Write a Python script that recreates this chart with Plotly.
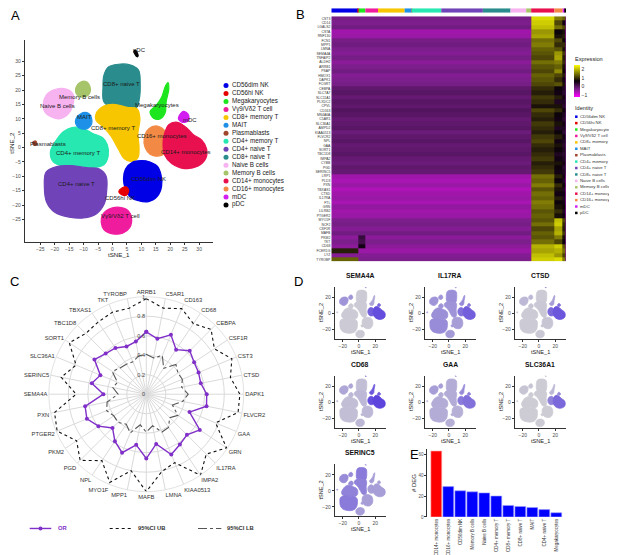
import plotly.graph_objects as go
import numpy as np

W, H = 617, 555
FONT = "Liberation Sans, Arial, sans-serif"


def px(x):
    return x / W


def py(y):
    return 1 - y / H


# ---------------- data ----------------
cluster_names = ["CD56dim NK", "CD56hi NK", "Megakaryocytes", "Vγ9/Vδ2 T cell", "CD8+ memory T",
                 "MAIT", "Plasmablasts", "CD4+ memory T", "CD4+ naive T", "CD8+ naive T",
                 "Naive B cells", "Memory B cells", "CD14+ monocytes", "CD16+ monocytes", "mDC", "pDC"]
cluster_colors = ["#0000E6", "#E60000", "#1EE61E", "#F01C9E", "#F7C600", "#1E90E8", "#A0462D",
                  "#26E8B0", "#7044B8", "#2A8C8C", "#F7B2F0", "#A6C46A", "#E8104F", "#F28A45",
                  "#D21EF0", "#000000"]

# tSNE outlines of each cluster (tSNE_1, tSNE_2)
outline_cd56dim_nk = [(4.5, -7.5), (7, -5), (10, -4.5), (13, -5), (15.5, -6.5), (16.8, -9.5), (17, -13.5),
                      (15.5, -17), (12.5, -18.8), (9, -18.5), (6, -17), (4.5, -14.5), (3.8, -11)]
outline_cd56hi_nk = [(2.2, -15.2), (4.5, -13.6), (5.6, -14.8), (4.8, -16.6), (3.2, -16.4)]
outline_megakaryocytes = [(13, 12.5), (15.2, 14.8), (17, 17.5), (18.3, 21.3), (19.2, 22.6), (19.5, 20.5),
                          (18.6, 16), (18.2, 12), (16.5, 10), (14.2, 10.2)]
outline_vg9vd2 = [(-3.5, -23.5), (-1, -21.3), (2.5, -20.8), (5.5, -22), (6.6, -24.5), (6, -27.8),
                  (3.5, -29.8), (0, -30), (-3, -28.5), (-3.9, -26)]
outline_cd8_memory_t = [(-5.6, 12), (-3, 14.5), (1, 15), (5, 14), (8.5, 13.5), (9.5, 10), (8.8, 5), (9.2, 0),
                        (8.8, -3.5), (6.5, -4.8), (4, -3.8), (2, -0.5), (-0.5, 4), (-3.5, 7.5), (-5.7, 9.5)]
outline_mait = [(-12.8, 9.5), (-11, 11.8), (-8.5, 12), (-7.2, 10), (-7.6, 7.5), (-9.5, 6.4), (-12, 7.2)]
outline_plasmablasts = [(-27.6, 1.9), (-26.6, 2.3), (-26.2, 1.2), (-27.2, 0.8)]
outline_cd4_memory_t = [(-21.5, -1.5), (-19.5, 2.5), (-17, 5.5), (-14, 7), (-10.5, 6.8), (-7, 5), (-3.5, 3.5),
                        (-1.8, 1), (-1.5, -3), (-3, -6), (-7, -7), (-12, -6.5), (-17, -6.5), (-20.5, -5)]
outline_cd4_naive_t = [(-23, -8.5), (-19, -6.5), (-14, -6.3), (-9, -7), (-4.5, -7.5), (-2.2, -10), (-2, -15),
                       (-2.8, -19.5), (-5.5, -23), (-10, -24.5), (-15, -24.2), (-20, -22.5), (-22.8, -19),
                       (-23.6, -13.5)]
outline_cd8_naive_t = [(-3, 25), (-1.5, 28), (2, 29), (6, 28.8), (9, 27), (9.6, 22), (9.3, 17), (8.2, 13.8),
                       (4, 13), (0, 13.8), (-3, 16), (-3.3, 21)]
outline_naive_b = [(-24, 15), (-23, 18.2), (-20, 20.2), (-16, 20.4), (-13.6, 18.5), (-13.8, 14.5),
                   (-15.5, 11.5), (-18.5, 10), (-21.5, 10.8), (-23.5, 12.5)]
outline_memory_b = [(-12.8, 20), (-11.5, 22.5), (-9.2, 23), (-7.8, 21.2), (-8, 18.8), (-10, 17.6), (-12.2, 18.3)]
outline_cd14_mono = [(17.8, 4), (19.5, 8), (22.5, 8.8), (25.5, 7), (28, 4.5), (31, 2.5), (32.6, -0.5),
                     (32.2, -4), (29.5, -6.5), (25, -7.3), (20.5, -5.5), (18, -2.5), (17.5, 1)]
outline_cd16_mono = [(11, 3.5), (12.5, 6.5), (15.5, 7.5), (18.3, 5.5), (18.8, 1), (18, -2), (15.5, -3),
                     (13, -2.3), (11.3, 0)]
outline_mdc = [(22.8, 10.2), (24.5, 12.6), (26.2, 11.6), (26.3, 9.4), (24.2, 8.8)]
outline_pdc = [(7.4, 33.5), (7.9, 33.9), (8.9, 32), (8.5, 31.6)]

outlines = [outline_cd56dim_nk, outline_cd56hi_nk, outline_megakaryocytes, outline_vg9vd2,
            outline_cd8_memory_t, outline_mait, outline_plasmablasts, outline_cd4_memory_t,
            outline_cd4_naive_t, outline_cd8_naive_t, outline_naive_b, outline_memory_b,
            outline_cd14_mono, outline_cd16_mono, outline_mdc, outline_pdc]
draw_order = [9, 4, 7, 8, 10, 11, 5, 6, 2, 13, 12, 14, 0, 1, 3, 15]

label_x = [12.4, 2.5, 15.5, 2.8, 0.2, -9.8, -22.3, -11.9, -12.5, 3.1, -19, -11.3, 25.4, 17, 26.8, 9.2]
label_y = [-10.8, -17.4, 14.9, -23.9, 6.8, 10.5, 1.2, -2, -12.6, 22, 14.5, 17.6, -1.6, 3.9, 9.6, 33.9]

# Heatmap (panel B)
heat_genes = ["CST3", "CD14", "LGALS2", "CSTA", "RNF130", "FCN1", "MPP1", "LMNA", "SEMA4A", "TNFAIP2",
              "ALDH2", "ARRB1", "PSAP", "HMOX1", "DAPK1", "FCGRT", "CEBPA", "SLC7A7", "SLC11A1", "PLXDC2",
              "CPVL", "CD163", "MS4A6A", "C5AR1", "SLC36A1", "AMPD2", "KIAA0513", "FLVCR2", "NPL", "GAA",
              "SORT1", "TBC1D8", "IMPA2", "CYBB", "PGD", "SERINC5", "LRP1", "PLD3", "PXN", "TBXAS1",
              "CTSD", "IL17RA", "FTL", "GRN", "LILRB2", "PTGER2", "MYO1F", "NCF2", "CSF1R", "MAFB",
              "PKM2", "TKT", "CD68", "FCER1G", "LYZ", "TYROBP"]
heat_cells = [267, 7, 67, 127, 267, 67, 3, 297, 417, 277, 157, 50, 233, 83, 23, 10]
expr_lymph = [-0.25, -0.3, -0.2, -0.55, -0.5, -0.25, -0.2, -0.3,
              -0.35, -0.25, -0.4, -0.3, -0.2, -0.35, -0.3, -0.25,
              -0.05, 0.0, -0.1, 0.0, -0.05, 0.05, 0.0, -0.1, -0.05, 0.0,
              -0.15, -0.05, 0.0, -0.1, -0.05, 0.0, -0.1, -0.15, -0.05, -0.1,
              -0.55, -0.6, -0.5, -0.65, -0.55, -0.5, -0.6, -0.45, -0.55, -0.5,
              -0.3, -0.25, -0.35, -0.2, -0.4, -0.3,
              -0.4, -0.5, -0.35, -0.3]
expr_cd14 = [2.3, 2.2, 2.1, 1.8, 1.9, 1.5, 1.6, 1.4,
             1.3, 1.2, 1.5, 1.3, 1.2, 1.4, 1.3, 1.2,
             1.0, 0.9, 1.1, 1.0, 0.8, 1.2, 1.0, 0.9, 1.1, 1.0,
             0.9, 1.1, 1.2, 1.0, 0.9, 1.0, 1.1, 0.9, 1.0, 1.1,
             1.5, 1.4, 1.6, 1.3, 1.5, 1.4, 1.6, 1.5, 1.3, 1.4,
             1.3, 1.5, 1.2, 1.4, 1.3, 1.5,
             2.0, 1.9, 2.1, 2.2]
expr_cd16 = [1.6, 1.2, 1.5, 0.7, 0.8, 1.2, 1.0, 1.3,
             1.8, 1.9, 1.6, 1.4, 1.7, 1.2, 1.0, 1.3,
             0.7, 0.6, 0.9, 0.5, 0.8, 1.0, 0.7, 0.6, 0.8, 0.5,
             0.7, 0.9, 0.6, 0.8, 0.7, 0.5, 0.6, 0.8, 0.7, 0.6,
             0.9, 0.7, 1.0, 0.8, 0.6, 0.9, 0.7, 0.8, 1.0, 0.8,
             2.1, 2.2, 1.9, 2.0, 1.6, 1.2,
             2.2, 2.0, 1.8, 2.3]
expr_mdc = [1.4, 0.6, 1.2, 0.8, 0.9, 0.7, 1.0, 0.8,
            1.1, 0.9, 1.0, 0.8, 0.7, 0.9, 0.6, 0.8,
            0.5, 0.4, 0.6, 0.5, 0.4, 0.7, 0.5, 0.4, 0.6, 0.5,
            0.4, 0.6, 0.5, 0.4, 0.5, 0.4, 0.5, 0.6, 0.4, 0.5,
            0.6, 0.5, 0.7, 0.5, 0.6, 0.5, 0.6, 0.7, 0.5, 0.6,
            1.2, 1.0, 0.9, 1.1, 0.8, 0.7,
            1.3, 1.5, 1.2, 1.6]
expr_nk_special = {"FCER1G": 0.9, "TYROBP": 1.4}
expr_mega_special = {"CD68": 0.6, "PKM2": 0.3, "TKT": 0.2}

# Radar (panel C)
radar_genes = ["ARRB1", "C5AR1", "CD163", "CD68", "CEBPA", "CSF1R", "CST3", "CTSD", "DAPK1", "FLVCR2",
               "GAA", "GRN", "IL17RA", "IMPA2", "KIAA0513", "LMNA", "MAFB", "MPP1", "MYO1F", "NPL",
               "PGD", "PKM2", "PTGER2", "PXN", "SEMA4A", "SERINC5", "SLC36A1", "SORT1", "TBC1D8",
               "TBXAS1", "TKT", "TYROBP"]
radar_or = [0.64, 0.58, 0.66, 0.55, 0.63, 0.59, 0.58, 0.57, 0.62, 0.63, 0.48, 0.66, 0.59, 0.62, 0.67,
            0.52, 0.66, 0.53, 0.65, 0.58, 0.49, 0.59, 0.66, 0.64, 0.44, 0.57, 0.51, 0.64, 0.59, 0.57,
            0.53, 0.55]
radar_ub = [0.98, 0.90, 0.95, 0.87, 0.94, 0.84, 0.95, 0.88, 0.96, 0.96, 0.77, 0.99, 0.87, 1.0, 0.76,
            0.81, 1.0, 0.80, 0.98, 0.82, 0.96, 0.86, 0.99, 0.96, 0.72, 0.89, 0.78, 0.95, 0.88, 0.89,
            0.91, 0.90]
radar_lb = [0.41, 0.38, 0.43, 0.32, 0.43, 0.39, 0.40, 0.37, 0.43, 0.38, 0.29, 0.39, 0.34, 0.41, 0.42,
            0.33, 0.39, 0.32, 0.43, 0.37, 0.41, 0.40, 0.44, 0.41, 0.29, 0.35, 0.32, 0.42, 0.38, 0.37,
            0.36, 0.40]

# Feature plots (panel D): relative expression per cluster (cluster order)
feature_genes = ["SEMA4A", "IL17RA", "CTSD", "CD68", "GAA", "SLC36A1", "SERINC5"]
expr_sema4a = [0.05, 0.05, 0.25, 0.05, 0.05, 0.05, 0.1, 0.05, 0.05, 0.05, 0.35, 0.35, 0.75, 0.65, 0.6, 0.3]
expr_il17ra = [0.3, 0.3, 0.4, 0.32, 0.35, 0.35, 0.3, 0.38, 0.4, 0.38, 0.35, 0.35, 0.65, 0.55, 0.5, 0.3]
expr_ctsd = [0.08, 0.08, 0.3, 0.06, 0.06, 0.08, 0.1, 0.05, 0.05, 0.05, 0.15, 0.15, 0.7, 0.6, 0.55, 0.4]
expr_cd68 = [0.15, 0.15, 0.7, 0.15, 0.15, 0.15, 0.2, 0.12, 0.12, 0.12, 0.25, 0.25, 0.8, 0.75, 0.65, 0.45]
expr_gaa = [0.2, 0.2, 0.4, 0.2, 0.22, 0.22, 0.2, 0.22, 0.22, 0.22, 0.3, 0.3, 0.55, 0.5, 0.45, 0.3]
expr_slc36a1 = [0.04, 0.04, 0.15, 0.04, 0.04, 0.04, 0.05, 0.04, 0.04, 0.04, 0.08, 0.08, 0.6, 0.45, 0.4, 0.1]
expr_serinc5 = [0.3, 0.3, 0.3, 0.3, 0.45, 0.4, 0.3, 0.45, 0.5, 0.5, 0.4, 0.4, 0.3, 0.3, 0.3, 0.3]
feature_expr = [expr_sema4a, expr_il17ra, expr_ctsd, expr_cd68, expr_gaa, expr_slc36a1, expr_serinc5]

# Bars (panel E)
deg_cells = ["CD14+ monocytes", "CD16+ monocytes", "CD56dim NK", "Memory B cells", "Naive B cells",
             "CD4+ memory T", "CD8+ memory T", "CD8+ naive T", "MAIT", "CD4+ naive T", "Megakaryocytes"]
deg_counts = [63, 29, 25, 24, 23, 20, 11, 10, 9, 7, 4]

# ---------------- figure ----------------
fig = go.Figure()
layout = dict(width=W, height=H, margin=dict(l=0, r=0, t=0, b=0), paper_bgcolor="white",
              plot_bgcolor="rgba(0,0,0,0)", showlegend=False, font=dict(family=FONT, color="#222"))
annotations = []


def ann(x, y, text, size, color="#222", xanchor="center", yanchor="middle", angle=0, bold=False,
        xref="paper", yref="paper"):
    if bold:
        text = "<b>" + text + "</b>"
    annotations.append(dict(x=x, y=y, xref=xref, yref=yref, text=text, showarrow=False,
                            font=dict(size=size, color=color, family=FONT), xanchor=xanchor,
                            yanchor=yanchor, textangle=angle))


def axis_common(tickvals, fontsize=5):
    return dict(showline=True, linecolor="#333", linewidth=0.7, ticks="outside", ticklen=2,
                tickwidth=0.6, tickcolor="#333", tickmode="array", tickvals=tickvals,
                tickfont=dict(size=fontsize, color="#4D4D4D", family=FONT),
                showgrid=False, zeroline=False, fixedrange=True)


# ---- Panel A ----
for k in draw_order:
    xs = [p[0] for p in outlines[k]] + [outlines[k][0][0]]
    ys = [p[1] for p in outlines[k]] + [outlines[k][0][1]]
    fig.add_trace(go.Scatter(x=xs, y=ys, mode="lines", fill="toself", fillcolor=cluster_colors[k],
                             line=dict(color=cluster_colors[k], width=1.2, shape="spline", smoothing=1),
                             xaxis="x", yaxis="y", hoverinfo="skip"))
for k in range(16):
    ann(label_x[k], label_y[k], cluster_names[k], 6, color="#1a1a1a", xref="x", yref="y")

layout["xaxis"] = dict(domain=[px(16.7), px(205)], range=[-30.4, 34.8], anchor="y",
                       **axis_common(list(range(-25, 31, 5))))
layout["yaxis"] = dict(domain=[py(235.7), py(31.7)], range=[-33, 37.6], anchor="x",
                       **axis_common(list(range(-25, 31, 5))))
ann(px(111), py(248), "tSNE_1", 6.2, color="#222")
ann(px(3.5), py(136), "tSNE_2", 6.2, color="#222", angle=-90)

# ---- Panel D ----
hi = np.array([64, 32, 224])
lo = np.array([211, 211, 211])
col_left = [326.7, 416.7, 506.7]
row_bottom = [332.7, 422.0, 511.0]
for i, gene in enumerate(feature_genes):
    r, c = divmod(i, 3)
    xl, yb = col_left[c], row_bottom[r]
    xa, ya = "x%d" % (i + 2), "y%d" % (i + 2)
    for k in draw_order:
        t = feature_expr[i][k]
        rgb = lo + (hi - lo) * t
        colr = "rgb(%d,%d,%d)" % tuple(rgb.round().astype(int))
        xs = [p[0] for p in outlines[k]] + [outlines[k][0][0]]
        ys = [p[1] for p in outlines[k]] + [outlines[k][0][1]]
        fig.add_trace(go.Scatter(x=xs, y=ys, mode="lines", fill="toself", fillcolor=colr,
                                 line=dict(color=colr, width=0.8, shape="spline", smoothing=1),
                                 xaxis=xa, yaxis=ya, hoverinfo="skip"))
    layout["xaxis%d" % (i + 2)] = dict(domain=[px(xl), px(xl + 51)], range=[-30, 33], anchor=ya,
                                       **axis_common([-20, 0, 20], 5))
    layout["yaxis%d" % (i + 2)] = dict(domain=[py(yb), py(yb - 52.2)], range=[-31.5, 33], anchor=xa,
                                       **axis_common([-20, 0, 20], 5))
    ann(px(xl + 25.5), py(yb - 64), gene, 6.8, color="#111", bold=True)
    ann(px(xl + 25.5), py(yb + 13), "tSNE_1", 5.6, color="#222")
    ann(px(xl - 13.5), py(yb - 26), "tSNE_2", 5.6, color="#222", angle=-90)

# ---- Panel B ----
cells = np.array(heat_cells)
edges = np.concatenate([[0], np.cumsum(cells)])
z = []
for g, gene in enumerate(heat_genes):
    row = []
    for k in range(16):
        if k == 12:
            v = expr_cd14[g]
        elif k == 13:
            v = expr_cd16[g]
        elif k == 14:
            v = expr_mdc[g]
        elif k in (0, 1) and gene in expr_nk_special:
            v = expr_nk_special[gene]
        elif k == 2 and gene in expr_mega_special:
            v = expr_mega_special[gene]
        else:
            v = expr_lymph[g]
        row.append(v)
    z.append(row)

fig.add_trace(go.Heatmap(z=z, x=edges, y=list(range(len(heat_genes))), xaxis="x9", yaxis="y9",
                         colorscale=[[0, "#FF00FF"], [0.25, "#7A1F8A"], [0.5, "#0A000A"], [1, "#FFFF00"]],
                         zmin=-1.23, zmax=2.58, hoverinfo="skip",
                         colorbar=dict(x=px(566), xanchor="left", y=py(57), yanchor="top",
                                       lenmode="pixels", len=32, thicknessmode="pixels", thickness=6,
                                       xpad=0, ypad=0, outlinewidth=0, tickvals=[-1, 0, 1, 2],
                                       ticks="", tickfont=dict(size=5, color="#333", family=FONT))))
layout["xaxis9"] = dict(domain=[px(323.3), px(558)], range=[0, float(edges[-1])], anchor="y9",
                        visible=False, fixedrange=True)
layout["yaxis9"] = dict(domain=[py(255), py(8.3)], range=[len(heat_genes) - 0.5, -0.5], anchor="x9",
                        tickmode="array", tickvals=list(range(len(heat_genes))), ticktext=heat_genes,
                        tickfont=dict(size=3.4, color="#333", family=FONT), ticks="", showline=False,
                        showgrid=False, zeroline=False, fixedrange=True)
fig.add_trace(go.Bar(x=cells, base=edges[:-1], y=[0] * 16, orientation="h", width=1,
                     marker=dict(color=cluster_colors, line=dict(width=0)), xaxis="x10", yaxis="y10",
                     hoverinfo="skip"))
layout["xaxis10"] = dict(domain=[px(323.3), px(558)], range=[0, float(edges[-1])], anchor="y10",
                         visible=False, fixedrange=True)
layout["yaxis10"] = dict(domain=[py(4.8), py(0.3)], range=[-0.5, 0.5], anchor="x10", visible=False,
                         fixedrange=True)
ann(px(565), py(51), "Expression", 5.6, color="#222", xanchor="left")
ann(px(565), py(100.5), "Identity", 5.6, color="#222", xanchor="left")

# ---- Panel E ----
bar_colors = ["#FF0000"] + ["#0000FF"] * (len(deg_counts) - 1)
bar_lines = ["#FF9A9A"] + ["#9A9AFF"] * (len(deg_counts) - 1)
fig.add_trace(go.Bar(x=list(range(len(deg_cells))), y=deg_counts, width=0.9,
                     marker=dict(color=bar_colors, line=dict(color=bar_lines, width=0.6)),
                     xaxis="x11", yaxis="y11", hoverinfo="skip"))
layout["xaxis11"] = dict(domain=[px(419.3), px(557.3)], range=[-0.75, 10.75], anchor="y11",
                         tickmode="array", tickvals=list(range(len(deg_cells))), ticktext=deg_cells,
                         tickangle=-90, tickfont=dict(size=4.5, color="#333", family=FONT),
                         ticks="", showline=False, showgrid=False, zeroline=False, fixedrange=True)
layout["yaxis11"] = dict(domain=[py(511.7), py(443.4)], range=[0, 65], anchor="x11",
                         **axis_common([0, 20, 40, 60], 4.5))
ann(px(406.7), py(478), "# DEG", 6, color="#222", angle=-90)

# ---- Panel C ----
theta = radar_genes + [radar_genes[0]]
fig.add_trace(go.Scatterpolar(r=radar_ub + [radar_ub[0]], theta=theta, mode="lines",
                              line=dict(color="#111", width=1.1, dash="dot"), hoverinfo="skip"))
fig.add_trace(go.Scatterpolar(r=radar_lb + [radar_lb[0]], theta=theta, mode="lines",
                              line=dict(color="#555", width=1.1, dash="dashdot"), hoverinfo="skip"))
fig.add_trace(go.Scatterpolar(r=radar_or + [radar_or[0]], theta=theta, mode="lines+markers",
                              line=dict(color="#8030C8", width=1.4),
                              marker=dict(color="#8030C8", size=4), hoverinfo="skip"))
layout["polar"] = dict(
    domain=dict(x=[px(40.3), px(236.3)], y=[py(486.3), py(290.3)]), bgcolor="white",
    radialaxis=dict(range=[0, 1], tickvals=[0, 0.2, 0.4, 0.6, 0.8, 1], ticktext=["0", "0.2", "0.4", "0.6", "0.8", "1"],
                    angle=90, tickangle=90, showline=False, ticks="", gridcolor="#DADADA", gridwidth=0.6,
                    tickfont=dict(size=5.5, color="#444", family=FONT), side="counterclockwise"),
    angularaxis=dict(direction="clockwise", rotation=90, categoryorder="array", categoryarray=radar_genes,
                     gridcolor="#DADADA", gridwidth=0.6, linecolor="#DADADA", linewidth=0.8, ticks="",
                     tickfont=dict(size=5.8, color="#333", family=FONT)))

# ---- Overlay for legends (pixel coordinates) ----
leg_a_y = [78 + 8 * i for i in range(16)]
fig.add_trace(go.Scatter(x=[218] * 16, y=leg_a_y, mode="markers",
                         marker=dict(color=cluster_colors, size=5), xaxis="x12", yaxis="y12", hoverinfo="skip"))
fig.add_trace(go.Scatter(x=[224] * 16, y=leg_a_y, mode="text", text=cluster_names, textposition="middle right",
                         textfont=dict(size=6.3, color="#222", family=FONT), xaxis="x12", yaxis="y12",
                         hoverinfo="skip"))
leg_b_y = [109.3 + 6.45 * i for i in range(16)]
fig.add_trace(go.Scatter(x=[568.3] * 16, y=leg_b_y, mode="markers",
                         marker=dict(color=cluster_colors, size=2.5, symbol="square"), xaxis="x12", yaxis="y12",
                         hoverinfo="skip"))
fig.add_trace(go.Scatter(x=[572] * 16, y=leg_b_y, mode="text", text=cluster_names, textposition="middle right",
                         textfont=dict(size=4.3, color="#333", family=FONT), xaxis="x12", yaxis="y12",
                         hoverinfo="skip", cliponaxis=False))
fig.add_trace(go.Scatter(x=[21.7, 32.5, 43.3], y=[523.3] * 3, mode="lines", line=dict(color="#8030C8", width=1.4),
                         xaxis="x12", yaxis="y12", hoverinfo="skip"))
fig.add_trace(go.Scatter(x=[32.5], y=[523.3], mode="markers", marker=dict(color="#8030C8", size=4),
                         xaxis="x12", yaxis="y12", hoverinfo="skip"))
fig.add_trace(go.Scatter(x=[101.7, 125], y=[523.3] * 2, mode="lines", line=dict(color="#111", width=1.1, dash="dot"),
                         xaxis="x12", yaxis="y12", hoverinfo="skip"))
fig.add_trace(go.Scatter(x=[190, 213.3], y=[523.3] * 2, mode="lines",
                         line=dict(color="#555", width=1.1, dash="dashdot"), xaxis="x12", yaxis="y12",
                         hoverinfo="skip"))
layout["xaxis12"] = dict(domain=[0, 1], range=[0, W], anchor="y12", visible=False, fixedrange=True)
layout["yaxis12"] = dict(domain=[0, 1], range=[H, 0], anchor="x12", visible=False, fixedrange=True)
ann(px(48.3), py(523.3), "OR", 5.8, color="#8030C8", xanchor="left", bold=True)
ann(px(128.3), py(523.3), "95%CI UB", 5.8, color="#333", xanchor="left", bold=True)
ann(px(216.7), py(523.3), "95%CI LB", 5.8, color="#333", xanchor="left", bold=True)

# panel letters
for letter, (lx, ly) in zip("ABCDE", [(7.3, 7.3), (292, 7), (6, 275), (290, 275), (406.3, 449)]):
    ann(px(lx), py(ly), letter, 13, color="#000")

layout["annotations"] = annotations
fig.update_layout(**layout)
fig.write_html("out.html")
